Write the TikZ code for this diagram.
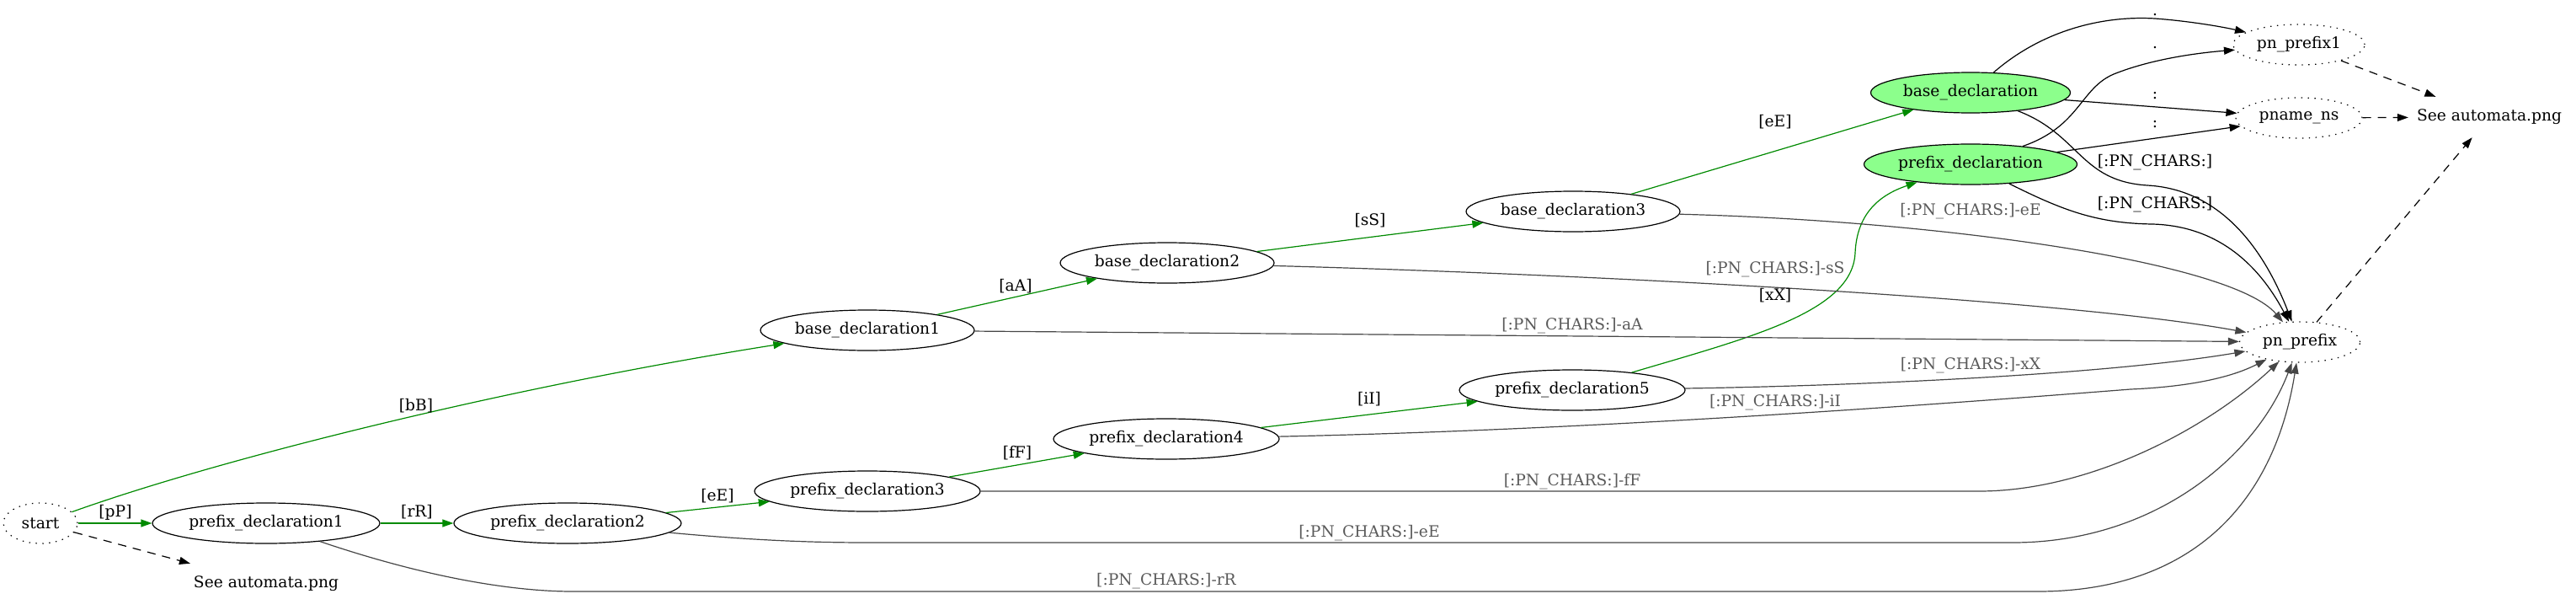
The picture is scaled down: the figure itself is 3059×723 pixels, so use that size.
\documentclass[tikz,border=0pt]{standalone}
\usepackage{fontspec}
\setmainfont{DejaVu Serif}
\usetikzlibrary{shapes.geometric,arrows.meta}
\definecolor{edgegreen}{RGB}{0,138,0}
\definecolor{nodegreen}{RGB}{140,255,140}
\definecolor{edgegray}{RGB}{70,70,70}
\definecolor{labelgray}{RGB}{90,90,90}
\begin{document}
\begin{tikzpicture}[x=1pt,y=-1pt,
  every node/.style={font=\fontsize{18.67}{22}\selectfont},
  st/.style={ellipse,draw,line width=1.2pt,inner sep=0pt,minimum height=48pt},
  dst/.style={st,dash pattern=on 1.4pt off 6.5pt},
  acc/.style={st,fill=nodegreen},
  plain/.style={inner sep=0pt,minimum width=192pt,minimum height=48pt},
  lbl/.style={inner sep=0pt},
  glbl/.style={inner sep=0pt,text=labelgray},
  arr/.style={-{Triangle[length=13pt,width=9pt]},line width=1.2pt},
  gedge/.style={arr,draw=edgegreen},
  yedge/.style={arr,draw=edgegray},
  kedge/.style={arr,draw=black},
  dedge/.style={arr,draw=black,dash pattern=on 10pt off 8pt},
]
\useasboundingbox (0,0) rectangle (3059,723);

% nodes
\node[dst,minimum width=88pt] (start) at (48,621) {start};
\node[st,minimum width=270pt] (pd1) at (316,621) {prefix\_declaration1};
\node[st,minimum width=270pt] (pd2) at (674,621) {prefix\_declaration2};
\node[st,minimum width=268pt] (pd3) at (1030,583) {prefix\_declaration3};
\node[st,minimum width=268pt] (pd4) at (1385,521) {prefix\_declaration4};
\node[st,minimum width=268pt] (pd5) at (1867,463) {prefix\_declaration5};
\node[st,minimum width=254pt] (bd1) at (1030,392) {base\_declaration1};
\node[st,minimum width=254pt] (bd2) at (1386,312) {base\_declaration2};
\node[st,minimum width=254pt] (bd3) at (1868,251) {base\_declaration3};
\node[acc,minimum width=237pt] (bd) at (2340,110) {base\_declaration};
\node[acc,minimum width=253pt] (pd) at (2340,195) {prefix\_declaration};
\node[dst,minimum width=156pt] (pnp1) at (2730,53) {pn\_prefix1};
\node[dst,minimum width=150pt] (pname) at (2730,140) {pname\_ns};
\node[dst,minimum width=143pt] (pn) at (2731,406) {pn\_prefix};
\node[plain] (see2) at (2956,139) {See automata.png};
\node[plain] (see1) at (316,693) {See automata.png};

% green edges
\draw[gedge] (start) -- (pd1);
\draw[gedge] (pd1) -- (pd2);
\draw[gedge] (pd2) -- (pd3);
\draw[gedge] (pd3) -- (pd4);
\draw[gedge] (pd4) -- (pd5);
\draw[gedge] (pd5) .. controls (2080,400) and (2200,370) .. (2203,300)
  .. controls (2205,255) and (2230,232) .. (pd);
\draw[gedge] (start) .. controls (260,545) and (600,460) .. (bd1);
\draw[gedge] (bd1) -- (bd2);
\draw[gedge] (bd2) -- (bd3);
\draw[gedge] (bd3) -- (bd);

% gray edges to pn_prefix
\draw[yedge] (bd1) -- (pn);
\draw[yedge] (bd2) .. controls (1900,326) and (2450,355) .. (pn);
\draw[yedge] (bd3) .. controls (2300,262) and (2650,310) .. (pn);
\draw[yedge] (pd5) .. controls (2200,458) and (2500,445) .. (pn);
\draw[yedge] (pd4) .. controls (1900,510) and (2300,480) .. (2530,462)
  .. controls (2600,459) and (2650,448) .. (pn);
\draw[yedge] (pd3) -- (2350,583) .. controls (2480,583) and (2620,510) .. (pn);
\draw[yedge] (pd2) .. controls (880,640) and (950,644) .. (1030,644) -- (2390,644)
  .. controls (2560,644) and (2680,540) .. (pn);
\draw[yedge] (pd1) .. controls (520,690) and (620,702) .. (680,702) -- (2420,702)
  .. controls (2600,702) and (2700,600) .. (pn);

% black edges
\draw[kedge] (bd) .. controls (2470,160) and (2470,215) .. (2550,220)
  .. controls (2640,225) and (2690,300) .. (pn);
\draw[kedge] (pd) .. controls (2450,250) and (2490,265) .. (2556,266)
  .. controls (2630,268) and (2680,310) .. (pn);
\draw[kedge] (bd) .. controls (2420,40) and (2490,18) .. (2559,22)
  .. controls (2600,25) and (2640,32) .. (pnp1);
\draw[kedge] (pd) .. controls (2470,150) and (2470,105) .. (2510,88)
  .. controls (2560,68) and (2620,62) .. (pnp1);
\draw[kedge] (bd) -- (pname);
\draw[kedge] (pd) -- (pname);

% dashed edges
\draw[dedge] (pnp1) -- (see2);
\draw[dedge] (pname) -- (see2);
\draw[dedge] (pn) -- (see2);
\draw[dedge] (start) -- (see1);

% labels
\node[lbl] (l1) at (137,608) {[pP]};
\node[lbl] (l2) at (495,608) {[rR]};
\node[lbl] (l3) at (852,589) {[eE]};
\node[lbl] (l4) at (1208,538) {[fF]};
\node[lbl] (l5) at (1626,474) {[iI]};
\node[lbl] (l6) at (2108,351) {[xX]};
\node[lbl] (l7) at (494,482) {[bB]};
\node[lbl] (l8) at (1206,340) {[aA]};
\node[lbl] (l9) at (1627,262) {[sS]};
\node[lbl] (l10) at (2108,145) {[eE]};
\node[glbl] (g1) at (1867,387) {[:PN\_CHARS:]-aA};
\node[glbl] (g2) at (2108,320) {[:PN\_CHARS:]-sS};
\node[glbl] (g3) at (2340,251) {[:PN\_CHARS:]-eE};
\node[glbl] (g4) at (2340,434) {[:PN\_CHARS:]-xX};
\node[glbl] (g5) at (2108,478) {[:PN\_CHARS:]-iI};
\node[glbl] (g6) at (1867,572) {[:PN\_CHARS:]-fF};
\node[glbl] (g7) at (1626,633) {[:PN\_CHARS:]-eE};
\node[glbl] (g8) at (1385,690) {[:PN\_CHARS:]-rR};
\node[lbl] (k1) at (2559,193) {[:PN\_CHARS:]};
\node[lbl] (k2) at (2559,243) {[:PN\_CHARS:]};
\node[lbl] (k3) at (2559,18) {.};
\node[lbl] (k4) at (2559,57) {.};
\node[lbl] (k5) at (2559,114) {:};
\node[lbl] (k6) at (2559,148) {:};
\end{tikzpicture}
\end{document}
